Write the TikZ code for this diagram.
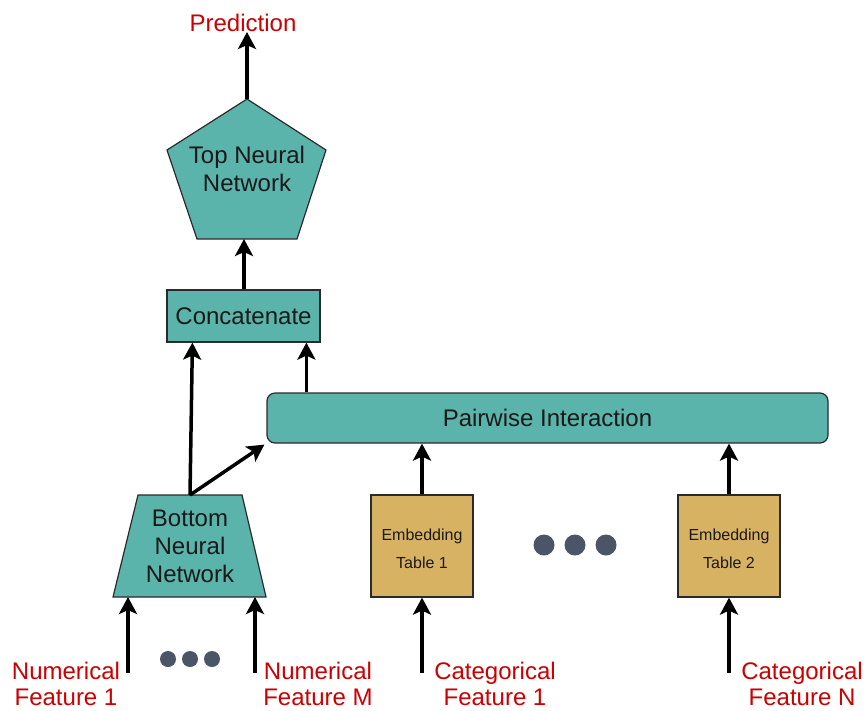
\documentclass[tikz,border=0pt]{standalone}
\usepackage{fontspec}
\setmainfont{Liberation Sans}
\usetikzlibrary{arrows.meta,calc}
\definecolor{tealc}{HTML}{5BB4AB}
\definecolor{goldc}{HTML}{D8B263}
\definecolor{edgec}{HTML}{2A2A2A}
\definecolor{redc}{HTML}{CC0000}
\definecolor{dotc}{HTML}{4A5568}
\begin{document}
\begin{tikzpicture}[x=1pt,y=-1pt,
  tealshape/.style={fill=tealc,draw=edgec,line width=1.2pt},
  goldshape/.style={fill=goldc,draw=edgec,line width=1.2pt},
  bigtxt/.style={font=\fontsize{24}{28}\selectfont,text=black!90,align=center,inner sep=0pt},
  smalltxt/.style={font=\fontsize{16}{28}\selectfont,text=black!90,align=center},
  lbl/.style={font=\fontsize{24}{26}\selectfont,text=redc,align=center,inner sep=0pt},
  arr/.style={line width=3.5pt,-{Stealth[length=17pt,width=18pt,inset=4pt]}},
  dotmark/.style={fill=dotc}]
\useasboundingbox (0,0) rectangle (866,710);

% Top neural network (pentagon)
\filldraw[tealshape] (247,99) -- (326,150) -- (297,239) -- (197,239) -- (167,150) -- cycle;
\node[bigtxt] (topnn) at (247,169) {Top Neural\\Network};
\coordinate (tnTop) at (247,99);
\coordinate (tnBot) at (244,239);

% Prediction
\node[lbl] (pred) at (243,23) {Prediction};

% Concatenate
\node[tealshape,bigtxt,minimum width=153pt,minimum height=52pt] (concat) at (243.5,316) {Concatenate};

% Pairwise interaction
\node[tealshape,bigtxt,rounded corners=8pt,minimum width=561pt,minimum height=50pt] (pw) at (547.5,418) {Pairwise Interaction};

% Bottom neural network (trapezoid)
\filldraw[tealshape] (138,495) -- (242,495) -- (266,597) -- (113,597) -- cycle;
\node[bigtxt] (bnn) at (190,546) {Bottom\\Neural\\Network};
\coordinate (bnTop) at (190,495);
\coordinate (bnBase) at (190,597);

% Embedding tables
\node[goldshape,minimum width=102pt,minimum height=102pt] (emb1) at (422,546) {};
\node[smalltxt] (emb1t) at (422,549) {Embedding\\Table 1};
\node[goldshape,minimum width=102pt,minimum height=102pt] (emb2) at (729,546) {};
\node[smalltxt] (emb2t) at (729,549) {Embedding\\Table 2};

% Dots
\fill[dotmark] (544,545) circle (10.5);
\fill[dotmark] (575,545) circle (10.5);
\fill[dotmark] (606,545) circle (10.5);
\fill[dotmark] (168,659) circle (8);
\fill[dotmark] (190,659) circle (8);
\fill[dotmark] (212,659) circle (8);

% Feature labels
\node[lbl] (num1) at (66,684) {Numerical\\Feature 1};
\node[lbl] (numM) at (318,684) {Numerical\\Feature M};
\node[lbl] (cat1) at (495,684) {Categorical\\Feature 1};
\node[lbl] (catN) at (802,684) {Categorical\\Feature N};

\coordinate (n1) at (128,673);
\coordinate (nM) at (255,673);
\coordinate (c1) at (422,673);
\coordinate (cN) at (729,673);

% Arrows
\draw[arr] (tnTop) -- (tnTop |- pred.south);
\draw[arr] (concat.north -| tnBot) -- (tnBot);
\draw[arr] (bnTop) -- ($(concat.south west)+(26,0)$);
\draw[arr] ($(pw.north west)+(40,0)$) -- ($(concat.south west)+(140,0)$);
\draw[arr] (bnTop) -- ($(pw.south west)+(-2,1)$);
\draw[arr] (emb1.north) -- (emb1.north |- pw.south);
\draw[arr] (emb2.north) -- (emb2.north |- pw.south);
\draw[arr] (n1) -- (n1 |- bnBase);
\draw[arr] (nM) -- (nM |- bnBase);
\draw[arr] (c1) -- (emb1.south);
\draw[arr] (cN) -- (emb2.south);
\end{tikzpicture}
\end{document}
